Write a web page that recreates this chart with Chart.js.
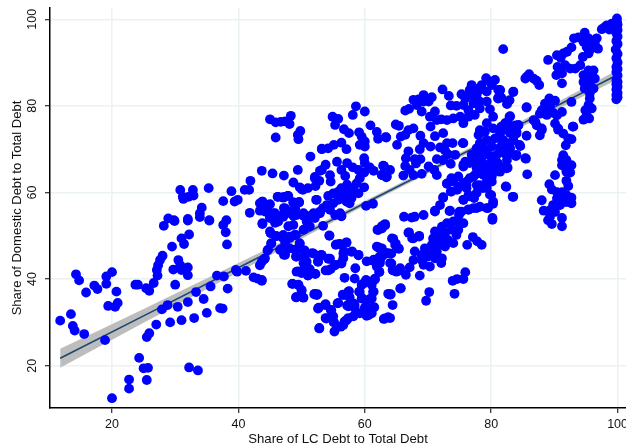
<!DOCTYPE html>
<html>
<head>
<meta charset="utf-8">
<style>
  html, body { margin: 0; padding: 0; background: #fff; }
  #wrap { width: 626px; height: 447px; position: relative; }
</style>
<script src="https://cdn.jsdelivr.net/npm/chart.js@4"></script>
</head>
<body>
<div id="wrap"><canvas id="chart"></canvas></div>
<script>
// axis ticks
const xTicks = [20, 40, 60, 80, 100];
const yTicks = [20, 40, 60, 80, 100];

// fitted line and its confidence band
const fitX = [11.8, 25, 40, 55, 70, 85, 100];
const fitY = [21.7, 31.5, 42.6, 53.8, 64.9, 76, 87.2];
const bandLow = [19.5, 29.9, 41.6, 53.2, 64.4, 75.3, 86.1];
const bandHigh = [23.9, 33.1, 43.7, 54.4, 65.4, 76.7, 88.3];

// [share of LC debt, share of domestic debt]
const debtPoints = [
  [11.8,30.4],[13.5,31.9],[13.8,29.2],[14.1,28.1],[14.3,41.1],[14.8,39.7],[15.9,36.9],[15.6,27.3],[17.2,38.5],[17.7,37.7],
  [19.1,40.6],[20,41.6],[19.1,38.9],[20.7,37.1],[19.4,33.8],[20.5,33.6],[20.9,34.5],[18.9,25.9],[20,12.5],[22.7,16.8],
  [22.7,14.7],[24.3,21.8],[25,19.4],[25.7,19.5],[25.5,16.7],[25.5,26.6],[25.9,27.5],[27,29.5],[27.9,33],[28.8,34],
  [29.2,30],[31,30.5],[33,31],[32.2,19.6],[33.6,18.9],[30.4,33.6],[32,34.7],[34.5,35.4],[35,32.2],[37.1,33.3],
  [37.5,33.2],[33.3,37],[35.6,38.3],[38.3,37.8],[36.6,40.8],[37.7,40.6],[23.7,38.7],[24.1,38.7],[25.4,37.9],[25.9,37.3],
  [26.6,39.1],[27.2,40.8],[27.1,42.1],[27.3,43.2],[27.6,44.4],[28,45.4],[30,38.7],[29.7,42.2],[30.5,44.4],[30.8,43.2],
  [31,42.1],[32,42.7],[32,40.9],[29.5,47.5],[31,49.4],[31.4,48.1],[32.2,50.3],[28.2,52.3],[29.9,53.4],[32,53.5],
  [35.4,53.5],[37.6,52.5],[38,50.8],[38.2,48],[39.6,42.1],[39.8,41.7],[41.2,41.9],[42.4,40.4],[43,40.1],[43.7,39.6],
  [43.4,43.2],[44.1,44.6],[44.6,46.6],[45.2,48.2],[43.8,52.7],[45.8,53],[46.3,53.3],[45.1,50.6],[46,49.9],[47.1,49.4],
  [48.1,49.8],[48.9,50.2],[47.4,48.3],[46.6,46.7],[47.2,45.6],[48.1,47.1],[49.1,46.6],[49.7,48.3],[49.1,45.2],[50.5,46.3],
  [51.9,45.9],[50.8,44],[50.5,42.5],[49.2,41.7],[51,40.9],[52.2,41.2],[48.6,38.9],[49.5,38.6],[50,37.3],[49.2,35.8],
  [50.3,35.7],[52.1,36.6],[52.4,36.3],[52.6,33.2],[52.8,28.6],[52.6,44],
  [30.8,60.6],[31.2,59],[31.3,58.5],[32.1,59],[32.8,60.6],[32.9,59.3],[35.3,61],[38.9,60.3],[37.6,58],[39.4,57.9],
  [39.9,58.3],[41,60.6],[41.7,60.6],[41.9,62.7],[43.7,65],[45.4,64.4],[47.2,63.9],[49.4,65.2],[51.4,68.3],[45,76.9],
  [45.9,76.2],[46.7,76.3],[47.4,76.4],[48.1,75.8],[48.3,77.7],[45.9,72.7],[49.4,73.3],[49.8,74.2],[49.5,72.3],[53.2,70],
  [48.7,62.3],[49.7,61.2],[50.2,60.6],[51,61],[52.1,63.6],[52.9,65],[52.2,61.5],[52.3,58.3],[41.8,55.3],[34.2,56.5],
  [33.9,55.2],[35.4,53.6],[38.1,53.6],[28.9,54],[29.8,53.6],[32,53.9],[33.9,54.3],[43.4,55.8],[43.8,57.9],[45,57.3],
  [46.2,59],[47.1,58.8],[47.8,59.2],[47.4,56.3],[48.7,57.7],[49.6,57.7],[49,56.3],[44.5,56],[45.5,55.2],[46,54.4],
  [45,54.4],[47.1,54.4],[48.2,55.2],[49.2,54.8],[50.8,54.6],[51.9,55.2],[52.9,55.6],
  [50,60.8],[52.1,63.3],[52.8,62.7],[53.2,65.2],[53.8,66.4],[54.5,64],[54.6,62.5],[55.6,67.1],[53.2,70.1],[54.2,70.2],
  [55.1,71],[56.3,71.5],[57.1,70],[54.9,77.5],[55.8,77],[55.3,75.6],[56.7,74.6],[57.5,73.7],[59.1,73.9],[59.5,72.9],
  [60,71.8],[59.2,71],[60,70.6],[58.6,79.9],[58.1,77.9],[60,78.7],[60.9,75.5],[61.9,74],[62.1,72.4],[63.3,72.8],
  [59.9,67.9],[60,66.8],[60.8,65.8],[61.4,65],[63,66.1],[62.8,64],[63.4,63.5],[56.3,65.2],[56.9,63.8],[57.2,66.8],
  [58.1,65.8],[59,65.2],[59.9,64.6],[59.2,63.3],[58.7,62.1],[59.9,61.2],[58.2,61],[57.2,61.8],[56.3,61],[55.8,60.2],
  [55,59.8],[54.2,59.2],[56.6,59.4],[57.6,60.2],[59,59.8],[57.9,58.7],[57.1,57.9],[55.8,58.3],[55,57.5],[57.6,57.5],
  [52.4,58.3],[54,57.1],[53.4,56.4],[54.5,56],[56.1,55.2],[56.3,54.6],[60.2,56.9],[61.3,57.4],[46.3,59],[47.2,59],
  [47.9,59.2],[49.6,57.8],[48.7,57.7],[43.8,57.9],[43.4,57.5],[44.7,57.1],[47.2,56.4],[48.7,56],[50.3,54.6],[51.8,55],
  [44.2,55.6],[45.8,55.2],[47.1,55],[48.7,54.6],[45,54.1],
  [43.8,52.9],[45.8,53.3],[48.7,54.8],[50.3,55.2],[50.8,53.3],[52.1,54.1],[53.4,52.3],[52.9,55.2],[55.3,54.8],[56.3,54.5],
  [48.7,52.5],[50.3,51.4],[51.3,52.2],[47.9,52.2],[45,51],[45.9,50],[47.1,50.2],[48.1,49.5],[49.1,50.2],[54.4,50.1],
  [55.4,47.9],[56,48.1],[57.1,48.5],[45.2,48.3],[44.7,46.8],[46.7,46.9],[47.4,45.6],[49.7,48.1],[48.9,46.8],[49.2,45.2],
  [50.5,46.6],[50.5,44.8],[51.7,46],[53.1,45.6],[52.6,44.1],[54.2,44.7],[50.8,42.9],[50.3,43.7],[49.5,41.8],[50,41.4],
  [51,40.8],[52.1,41.2],[51.3,42.3],[43.7,44],[44.2,44.8],[53.8,42],[54.6,42.3],[55.3,43.3],[56.3,43.7],[56.6,44.8],
  [56.7,46.4],[58,46.4],[59,45.6],[58.5,42.5],[56.8,40.3],[58.4,40.1],[60.3,44.1],[61.4,44.5],[62.4,43.7],[61.9,42.9],
  [62.3,41.6],[63.4,46],[62.7,45.2],[61.9,47.5],[62.3,47.1],[62,51.4],[62.7,52.2],[63.2,52.7],[43.7,39.8],[48.5,38.9],
  [49.5,38.7],[50,37.5],[49.1,35.8],[50.2,35.8],[52,36.5],[52.5,36.5],[52.7,33.4],[53.8,34.2],[54.6,32.9],[53.8,31],
  [55,31.4],[55.1,30],[52.8,28.7],[55.2,27.9],[56.2,29],[56.8,30.2],[57.4,31],[55.7,34.4],[56.5,36.4],[57.4,37.1],
  [57.6,35.8],[57.2,33.9],[58.2,34.4],[58.4,33.3],[58.2,31.4],[59.2,32.1],[60.3,31.5],[61.1,32.1],[61.5,33.5],[60.2,33.7],
  [60.8,35.4],[59.6,35.6],[59.1,37.1],[59.5,38.7],[60.2,39.8],[61.6,40.1],[61.1,38.7],[61.4,37.1],[63.2,30.9],[63.7,31.2],
  [63.7,36.6],
  [72.3,83.8],[73.3,82.3],[69.3,82.5],[70.6,82],[67.7,81.4],[68.5,81.5],[69.3,81],[70.1,81],[68.2,80.2],[69,78.7],
  [66.4,78.9],[67,79.3],[75.3,82.7],[76.9,84.8],[76.6,83.7],[77.4,84],[78.2,83.7],[75.9,81.7],[76.6,82.5],[77.7,82.5],
  [78.5,84.8],[79.2,86.4],[80.6,86],[80.1,84.8],[79.8,85.6],[81.1,83.7],[81.1,81.7],[79.3,83.3],[73.6,80.1],[74.5,80],
  [75.6,80.2],[76.4,79],[77.2,80.6],[78.2,81],[79.3,81],[79.8,79.2],[78.2,79.4],[77.4,77.9],[76.4,77.5],[75.1,77.5],
  [74,77.1],[73,76.7],[72.1,76.9],[71.1,78.7],[70.3,77.5],[71.4,76.7],[75.6,76],[64.9,75.7],[65.4,75.4],[67.7,74.8],
  [66.9,74.4],[66.4,73.3],[65.7,72.9],[63.4,72.7],[65.1,71],[70.4,75.2],[68.8,73.1],[71.1,73],[72.4,73.7],[69.3,71.4],
  [68.7,70],[70.4,70.6],[66.9,69.5],[71.9,70.4],[73,71.4],[73.9,71.4],[75.5,71.4],[72.7,69.7],[73.2,68.8],[74.3,68.7],
  [71.4,67.7],[72.4,67.5],[73.6,66.6],[66.5,67.9],[67.9,67.7],[68.8,67.7],[68.1,66.7],[66.4,66.1],[67.1,65.2],[67.7,64],
  [69,64.3],[70.1,66],[71,65.2],[71.4,64],[66.1,63.9],[63,66.1],[64,65.2],[63.5,63.7],[62.7,64],[73,62],
  [73.7,63.3],[74.8,63.7],[75.6,62.1],[76.6,63.3],[77.4,64],
  [78.2,74.4],[79.3,76],[80.3,77.5],[82.2,76],[78,73.3],[79,74],[80.3,74.8],[81.4,74],[78.2,71.4],[79.3,72.1],
  [80.6,72.5],[81.9,72.1],[77.7,70.2],[78.8,70.2],[80.1,70.6],[81.4,70.4],[76.9,68.7],[78.2,68.7],[79.5,68.7],[80.9,68.7],
  [82.2,69],[75.9,67.1],[77.2,67.1],[78.5,67.1],[79.8,66.7],[81.1,66.7],[75.6,66],[77.7,65.6],[79,65.6],[80.3,65.2],
  [78.8,64],[80.1,63.7],[79.3,62.5],[78.2,61.7],[76.1,61.7],[82.4,66],
  [73,62.1],[73.6,60.2],[72.4,58.9],[71.9,57.1],[71.1,55.6],[73.4,55.7],[75.6,58.3],[76.4,59.4],[77.3,58.7],[74.6,60.6],
  [76.1,61],[77.7,61.7],[79.3,61],[80,59.4],[82.3,61.4],[80.3,57.4],[79.5,56.4],[78.2,56.7],[77.2,56.4],[76.4,56.1],
  [75.3,55.6],[74.9,54.8],[80.2,53.7],[66.2,54.4],[67.4,54.2],[67.9,54.4],[69.3,54.8],[63.2,52.5],[62.7,51.7],[67,50.8],
  [67.5,49.4],[68.6,50],[64.5,49.3],[64.8,47.9],[65.3,47.1],[62.7,47.1],[63.7,46],[62.4,44.4],[64,43.7],[64.4,42.1],
  [65,41.7],[65.6,42.5],[67.9,46.4],[67.7,44.4],[67.1,42.7],[66.5,41],[68.7,40.8],[65.7,37.9],[64.1,36.5],[64.4,34],
  [70.2,37],[69.7,35],[74.2,36.6],[73.9,39.6],[74.6,40],[75.6,40],[75.9,41.6],[76.2,47.9],[77.1,49.7],[77.8,48.7],
  [78.5,47.9],[71.1,51],[72.2,52.1],[73,52.9],[74,53.3],[75.6,52.9],[74.8,53.3],[71.6,50.2],[72.7,50.6],[73.7,51.4],
  [74.8,51.4],[70.8,49.4],[72.2,49],[73.2,49],[74,48.3],[74.5,50.2],[70.6,47.9],[71.6,47.9],[72.7,47.5],[69.5,47.1],
  [70.3,46.3],[71.4,46.3],[69,45.6],[70,45.2],[71.1,44.8],[72.2,44.8],[69.3,43.3],[70.3,42.9],[72.1,43.7],[69,44.4],
  [99.9,100.2],[99.6,99],[99.1,99],[98.3,98.6],[97.5,97.7],[97.9,98.1],[98.7,97.6],[99.9,99.4],[100,98.8],[99.8,98.2],
  [100,97.5],[99.8,96.8],[100,96],[99.8,95],[100,94.3],[99.7,93],[100,92],[99.8,91],[100,90],[99.8,89],
  [100,88.5],[99.8,87.8],[100,87],[99.8,86],[100,85.5],[99.8,85],[100,84.4],[99.8,83.8],[100,83],[99.8,82.5],
  [100,82],[99.8,81.5],
  [81.9,93.1],[89,90.6],[90.4,91.7],[91.4,92.1],[92,92.5],[91,91.1],[92.7,93.5],[93.1,95.6],[93.8,95.8],[94.8,96.9],
  [95.4,95.6],[96.7,95.6],[96.9,93.2],[94.6,94.8],[95.1,93.6],[95.6,92.9],[94.5,91.3],[95.4,92.1],[96.4,94.4],[95.7,94.8],
  [90.3,87.1],[91.2,87.5],[90.5,89],[91.7,89.4],[92.5,88.6],[93.3,88.6],[94.1,89.4],[91.2,85.2],[94.6,87.1],[95.4,88.2],
  [96.2,88.2],[95.4,86.7],[96.4,86.3],[94.6,85.5],[95.6,85.2],[94.8,84],[96.2,84],[95.6,82.9],[95.6,81.7],[95.4,80.2],
  [95.9,79.4],[94.9,79],[95.1,77.8],[94.6,76.8],[95.5,77.1],[92.7,80.9],[92.9,75.2],[85.6,86.7],[85.4,86.3],[86,87.3],
  [86.7,86.3],[87.2,85.8],[87.6,84.8],[83.5,83.2],[82.9,81.3],[82.5,80.4],[85.6,79.6],[81.4,83.6],[81.6,81.9],[82.9,77.5],
  [82.6,76.3],[84.3,75.5],[89.2,81.7],[88.5,80.5],[90.1,81.2],[89.3,79.8],[88,79],[88.8,77.9],[89.8,78.4],[91.2,78.6],
  [90.4,77.8],[87.7,78.2],[86.7,76.7],[87.2,75.5],[88,74.8],[90.1,75.9],[90.6,74.5],
  [93,75.2],[90.6,74.8],[91.4,73.6],[92.7,72.3],[92.2,72.5],[91.8,70.9],[87.7,73.2],[88,74.4],[87,76.3],[85.6,73.1],
  [84.6,70.7],[85.5,67.8],[85.7,64.2],[83.9,68.4],[82.6,65.7],[82.4,61.3],[83.5,59],[82.5,67.5],[81.4,64.8],[84,73.6],
  [83.5,72],[83,70.2],[81.9,70.5],[83,69],[82.2,69],[81.7,72],[82.7,74.4],[83.8,75.5],[82.5,75.5],[81.4,73.6],
  [91.4,68.6],[91.2,67.5],[91.9,67.5],[92.7,66.3],[91.7,65.9],[91.2,66.3],[91.9,64.8],[92.5,64.6],[90.1,64],[91.9,62.7],
  [92.2,61.5],[89.2,61.9],[89.6,60.7],[88,58.2],[90.4,60.1],[91.2,60.1],[91.9,59.4],[92.7,58.8],[92.7,57.5],[91.9,57.8],
  [91.2,58.6],[90.4,58.6],[89.8,57.1],[90.9,57.1],[88.3,55.8],[89.3,55.9],[90.1,55.5],[89.3,54.4],[91.2,54.1],[89,53.6],
  [89.6,52.7],[91.2,52.2],
  [84.3,75.6],[85.6,79.7],[85.4,67.9],[83.4,59],[84.5,71],[84,68.7],[82.4,65.6],[81.1,64.9],[80.1,62.5],[79.8,59.5],
  [78.7,61],[80.3,57.9],[79.3,56.4],[80.2,54.1],[77.7,56.4],[76.4,56],[75,55.6],[73.5,55.8],[72.4,58.8],[71.1,55.8],
  [75.6,71.4],[83,73.7],[83,77.6],[82.4,75.6],[81.6,75.2],[83.5,83.3],[82.7,81],[81.1,81.8],[81.4,83.7],[77.7,68.3],
  [76.6,66.8],[75.6,66.4],[80.3,68.3],[81.4,69.9],[82.4,71.4],[83.5,72.2],[84,74.1],[79.3,69.1],[78.2,64.5],[79.3,64.5],
  [80.3,66],[77.2,63.7],[76.1,62.5],[75,61.4],[74,62.5],[73.7,60.2],[75.6,58.3],[76.6,59.1],[77.7,59.9],
  [62.9,66.2],[62.7,64.1],[64.3,49.4],[64.9,48.2],[65.4,47],[63.4,45.9],[64.2,45.9],[64.2,43.6],[64.5,42],[65.5,42],
  [64,36.4],[65.6,37.8],[63,30.8],[64,31],[66.9,50.7],[67.7,49.4],[68.6,49.8],[62.1,47.4],[63.2,52.4],[62.1,51.3],
  [62.3,41.7],[61.6,39.9],[61.3,44.2],[62.3,45.1],[60.8,39.4],[59.8,39],[59.2,37],[61.3,37],[56.7,36.3],[57.5,37.2],
  [59.5,35.5],[61.1,35.5],[61.3,33.4],[60,33.4],[60.6,31.7],[57.4,33.7],[58.4,34],[55.8,34.5],[56.6,29.4],[57.1,30.5],
  [53.7,34],[53.9,30.9],[54.7,32.8],[55.1,30.1],[54.5,44.7],[53.2,45.5],[54.2,42],[55.5,48],[56.1,48],[57.1,48.4],
  [54.4,50],[56.6,45.9],[56.3,43.6],[57.9,46.3],[59,45.5],[55.3,43.2]
];

const FONT = 'Liberation Sans, Arial, sans-serif';

const toXY = (xs, ys) => xs.map((x, i) => ({ x: x, y: ys[i] }));

new Chart(document.getElementById('chart').getContext('2d'), {
  type: 'scatter',
  data: {
    datasets: [
      {
        label: 'Observations',
        data: debtPoints.map(p => ({ x: p[0], y: p[1] })),
        backgroundColor: '#0000ff',
        pointRadius: 4.9,
        pointBorderWidth: 0,
        order: 0
      },
      {
        label: 'Fit',
        data: toXY(fitX, fitY),
        showLine: true,
        borderColor: '#1a476f',
        borderWidth: 1.6,
        pointRadius: 0,
        order: 1
      },
      {
        label: 'Band low',
        data: toXY(fitX, bandLow),
        showLine: true,
        borderWidth: 0,
        pointRadius: 0,
        cubicInterpolationMode: 'monotone',
        order: 2
      },
      {
        label: 'Band high',
        data: toXY(fitX, bandHigh),
        showLine: true,
        borderWidth: 0,
        pointRadius: 0,
        cubicInterpolationMode: 'monotone',
        backgroundColor: '#bdbdbd',
        fill: '-1',
        order: 3
      }
    ]
  },
  options: {
    responsive: true,
    maintainAspectRatio: false,
    animation: false,
    // autoPadding would shrink the plot by the point radius
    layout: { autoPadding: false, padding: { top: 8, right: 0, bottom: 0, left: 0 } },
    plugins: { legend: { display: false }, tooltip: { enabled: false } },
    scales: {
      x: {
        type: 'linear',
        min: 10.19,
        max: 101.33,
        afterBuildTicks: s => { s.ticks = xTicks.map(v => ({ value: v })); },
        // ticks sit away from the ends, so no edge padding is needed
        afterFit: s => { s.height = 39; s.paddingLeft = 0; s.paddingRight = 0; },
        grid: { color: '#eaf2f3', lineWidth: 1.5, tickColor: '#000', tickLength: 5, tickWidth: 1 },
        border: { color: '#000', width: 1.5 },
        ticks: { color: '#111', font: { family: FONT, size: 12.5 }, padding: 4, maxRotation: 0 },
        title: { display: true, text: 'Share of LC Debt to Total Debt', color: '#111', font: { family: FONT, size: 13.2 }, padding: 0 }
      },
      y: {
        type: 'linear',
        min: 10.23,
        max: 102.6,
        afterBuildTicks: s => { s.ticks = yTicks.map(v => ({ value: v })); },
        afterFit: s => { s.width = 50; s.paddingTop = 0; s.paddingBottom = 0; },
        grid: { color: '#eaf2f3', lineWidth: 1.5, tickColor: '#000', tickLength: 5, tickWidth: 1 },
        border: { color: '#000', width: 1.5 },
        ticks: { color: '#111', font: { family: FONT, size: 12.5 }, padding: 2, minRotation: 90, maxRotation: 90, crossAlign: 'center' },
        title: { display: true, text: 'Share of Domestic Debt to Total Debt', color: '#111', font: { family: FONT, size: 13 }, padding: { top: 10, bottom: 0 } }
      }
    }
  }
});
</script>
</body>
</html>
